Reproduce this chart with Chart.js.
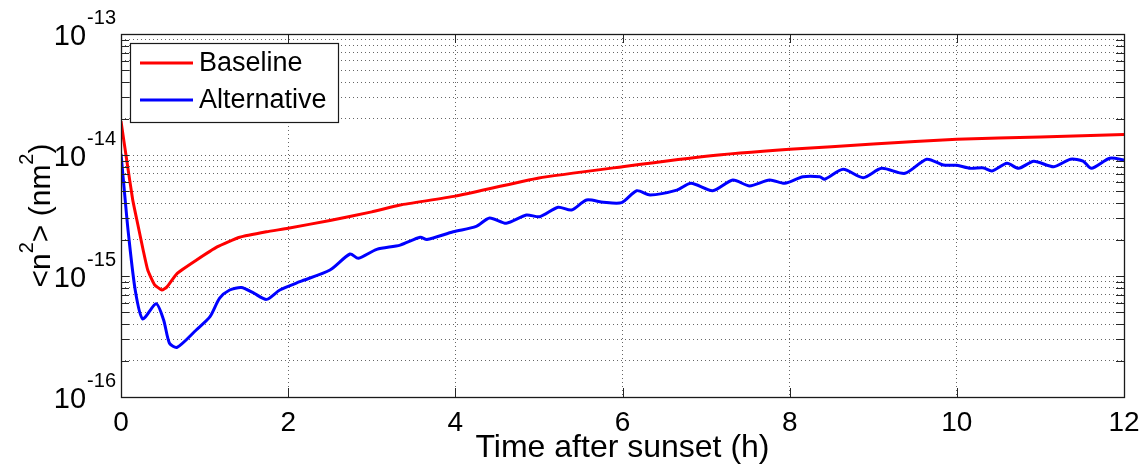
<!DOCTYPE html>
<html><head><meta charset="utf-8">
<script src="https://cdn.jsdelivr.net/npm/chart.js@4"></script>
<style>html,body{margin:0;padding:0;background:#fff;overflow:hidden}#wrap{width:1143px;height:470px}</style>
</head><body><div id="wrap"><canvas id="c" width="1143" height="470"></canvas></div>
<script>
const FONT = '"Liberation Sans", Arial, Helvetica, sans-serif';

const seriesNames = ['Baseline', 'Alternative'];
const seriesColors = ['#ff0000', '#0000ff'];

const baselineTime = [0, 0.07, 0.14, 0.2, 0.265, 0.32, 0.4, 0.49, 0.55, 0.67, 0.9, 1.15, 1.42, 1.74, 2.0, 2.5, 3.0, 3.34, 4.0, 5.0, 6.0, 7.0, 8.0, 9.0, 10.0, 11.0, 12.0];
const baselineValues = [1.905e-14, 8.91e-15, 4.27e-15, 2.69e-15, 1.64e-15, 1.12e-15, 8.5e-16, 7.66e-16, 8.13e-16, 1.047e-15, 1.35e-15, 1.74e-15, 2.09e-15, 2.32e-15, 2.48e-15, 2.88e-15, 3.39e-15, 3.86e-15, 4.57e-15, 6.46e-15, 8.0e-15, 9.77e-15, 1.114e-14, 1.23e-14, 1.35e-14, 1.41e-14, 1.48e-14];

const alternativeTime = [0, 0.05, 0.088, 0.17, 0.26, 0.42, 0.51, 0.58, 0.67, 0.9, 1.065, 1.18, 1.3, 1.44, 1.58, 1.74, 1.9, 2.14, 2.5, 2.74, 2.84, 3.06, 3.34, 3.58, 3.66, 3.975, 4.25, 4.41, 4.61, 4.85, 5.01, 5.23, 5.39, 5.57, 5.77, 5.99, 6.17, 6.33, 6.65, 6.82, 7.08, 7.32, 7.52, 7.76, 7.94, 8.16, 8.36, 8.42, 8.64, 8.88, 9.1, 9.38, 9.64, 9.84, 10.0, 10.16, 10.32, 10.42, 10.6, 10.74, 10.92, 11.16, 11.36, 11.51, 11.61, 11.83, 12.0];
const alternativeValues = [1.023e-14, 4.25e-15, 2.26e-15, 7.66e-16, 4.42e-16, 5.89e-16, 4.33e-16, 2.78e-16, 2.57e-16, 3.58e-16, 4.61e-16, 6.55e-16, 7.66e-16, 8.02e-16, 7.28e-16, 6.41e-16, 7.66e-16, 8.97e-16, 1.12e-15, 1.52e-15, 1.40e-15, 1.66e-15, 1.80e-15, 2.09e-15, 2.00e-15, 2.32e-15, 2.57e-15, 3.02e-15, 2.73e-15, 3.19e-15, 3.09e-15, 3.70e-15, 3.51e-15, 4.25e-15, 4.07e-15, 4.04e-15, 5.07e-15, 4.68e-15, 5.13e-15, 5.83e-15, 5.07e-15, 6.21e-15, 5.55e-15, 6.21e-15, 5.83e-15, 6.61e-15, 6.61e-15, 6.31e-15, 7.62e-15, 6.50e-15, 7.76e-15, 7.06e-15, 9.23e-15, 8.26e-15, 8.22e-15, 7.76e-15, 7.82e-15, 7.38e-15, 8.53e-15, 7.76e-15, 8.87e-15, 8.00e-15, 9.23e-15, 8.91e-15, 7.76e-15, 9.40e-15, 9.10e-15];

const xTickValues = [0, 2, 4, 6, 8, 10, 12];
const yDecadeExponents = [-16, -15, -14, -13];
const yMinorMultipliers = [1, 2, 3, 4, 5, 6, 7, 8, 9];
const xTitle = 'Time after sunset (h)';
const yTitleParts = [['<n', false], ['2', true], ['> (nm', false], ['2', true], [')', false]];

const toPoints = (t, v) => t.map((x, i) => ({ x: x, y: v[i] }));

const decor = {
  id: 'decor',
  afterDraw(chart) {
    const ctx = chart.ctx;
    const a = chart.chartArea;
    const xs = chart.scales.x, ys = chart.scales.y;
    ctx.save();
    // inward tick marks
    ctx.strokeStyle = '#262626';
    ctx.lineWidth = 1;
    ctx.beginPath();
    ys.ticks.forEach(t => {
      const y = Math.round(ys.getPixelForValue(t.value)) + 0.5;
      ctx.moveTo(a.left, y); ctx.lineTo(a.left + 8, y);
      ctx.moveTo(a.right, y); ctx.lineTo(a.right - 8, y);
    });
    xTickValues.forEach(v => {
      const x = Math.round(xs.getPixelForValue(v)) + 0.5;
      ctx.moveTo(x, a.bottom); ctx.lineTo(x, a.bottom - 9);
      ctx.moveTo(x, a.top); ctx.lineTo(x, a.top + 9);
    });
    ctx.stroke();
    // box
    ctx.strokeStyle = '#1a1a1a';
    ctx.lineWidth = 1.3;
    ctx.strokeRect(Math.round(a.left) + 0.5, Math.round(a.top) + 0.5, Math.round(a.right - a.left), Math.round(a.bottom - a.top));

    // y tick labels 10^e
    ctx.fillStyle = '#000';
    ctx.textBaseline = 'alphabetic';
    yDecadeExponents.forEach(e => {
      const y = ys.getPixelForValue(Math.pow(10, e));
      const sup = String(e);
      ctx.font = '20px ' + FONT;
      const sw = ctx.measureText(sup).width;
      const right = a.left - 5;
      ctx.textAlign = 'right';
      ctx.fillText(sup, right, y - 10);
      ctx.font = '29px ' + FONT;
      ctx.fillText('10', right - sw - 1, y + 10.5);
    });

    // y title
    ctx.save();
    const cy = (a.top + a.bottom) / 2;
    ctx.translate(50, cy);
    ctx.rotate(-Math.PI / 2);
    let total = 0;
    yTitleParts.forEach(p => { ctx.font = (p[1] ? '20px ' : '30px ') + FONT; total += ctx.measureText(p[0]).width; });
    let px = -total / 2;
    ctx.textAlign = 'left';
    yTitleParts.forEach(p => {
      ctx.font = (p[1] ? '20px ' : '30px ') + FONT;
      ctx.fillText(p[0], px, p[1] ? -17 : 0);
      px += ctx.measureText(p[0]).width;
    });
    ctx.restore();

    // x title
    ctx.font = '32px ' + FONT;
    ctx.textAlign = 'center';
    ctx.textBaseline = 'middle';
    ctx.fillText(xTitle, (a.left + a.right) / 2, 448);

    // legend
    const lx = 130, ly = 43, lw = 208, lh = 79;
    ctx.fillStyle = '#fff';
    ctx.fillRect(lx, ly, lw, lh);
    ctx.strokeStyle = '#1a1a1a';
    ctx.lineWidth = 1.2;
    ctx.strokeRect(lx + 0.5, ly + 0.5, lw, lh);
    const rows = [63, 100];
    chart.data.datasets.forEach((ds, i) => {
      ctx.strokeStyle = ds.borderColor;
      ctx.lineWidth = 3;
      ctx.beginPath();
      ctx.moveTo(140, rows[i]); ctx.lineTo(193, rows[i]);
      ctx.stroke();
      ctx.fillStyle = '#000';
      ctx.font = '27px ' + FONT;
      ctx.textAlign = 'left';
      ctx.textBaseline = 'middle';
      ctx.fillText(ds.label, 199, rows[i] + 1);
    });
    ctx.restore();
  }
};

new Chart(document.getElementById('c'), {
  type: 'line',
  data: {
    datasets: [
      { label: seriesNames[0], data: toPoints(baselineTime, baselineValues), borderColor: seriesColors[0], borderWidth: 3, pointRadius: 0, fill: false, tension: 0.15 },
      { label: seriesNames[1], data: toPoints(alternativeTime, alternativeValues), borderColor: seriesColors[1], borderWidth: 3, pointRadius: 0, fill: false, tension: 0.25 }
    ]
  },
  options: {
    responsive: false,
    animation: false,
    devicePixelRatio: 1,
    layout: { padding: { left: 0, top: 34, right: 19, bottom: 0 } },
    plugins: { legend: { display: false }, tooltip: { enabled: false } },
    scales: {
      x: {
        type: 'linear', min: 0, max: 12,
        afterBuildTicks: s => { s.ticks = xTickValues.map(v => ({ value: v })); },
        afterFit: s => { s.height = 73; s.paddingLeft = 0; s.paddingRight = 0; },
        ticks: { font: { size: 28, family: FONT }, color: '#000', padding: 9, maxRotation: 0 },
        grid: { color: 'rgba(0,0,0,0.6)', lineWidth: 1, drawTicks: false },
        border: { display: false, dash: [1, 3] }
      },
      y: {
        type: 'logarithmic', min: 1e-16, max: 1e-13,
        afterBuildTicks: s => {
          const t = [];
          yDecadeExponents.forEach(e => {
            yMinorMultipliers.forEach(m => { const v = m * Math.pow(10, e); if (v <= 1.0001e-13) t.push({ value: v }); });
          });
          s.ticks = t;
        },
        afterFit: s => { s.width = 121; s.paddingTop = 0; s.paddingBottom = 0; },
        ticks: { display: false },
        grid: { color: 'rgba(0,0,0,0.6)', lineWidth: 1, drawTicks: false },
        border: { display: false, dash: [1, 3] }
      }
    }
  },
  plugins: [decor]
});
</script>
</body></html>
